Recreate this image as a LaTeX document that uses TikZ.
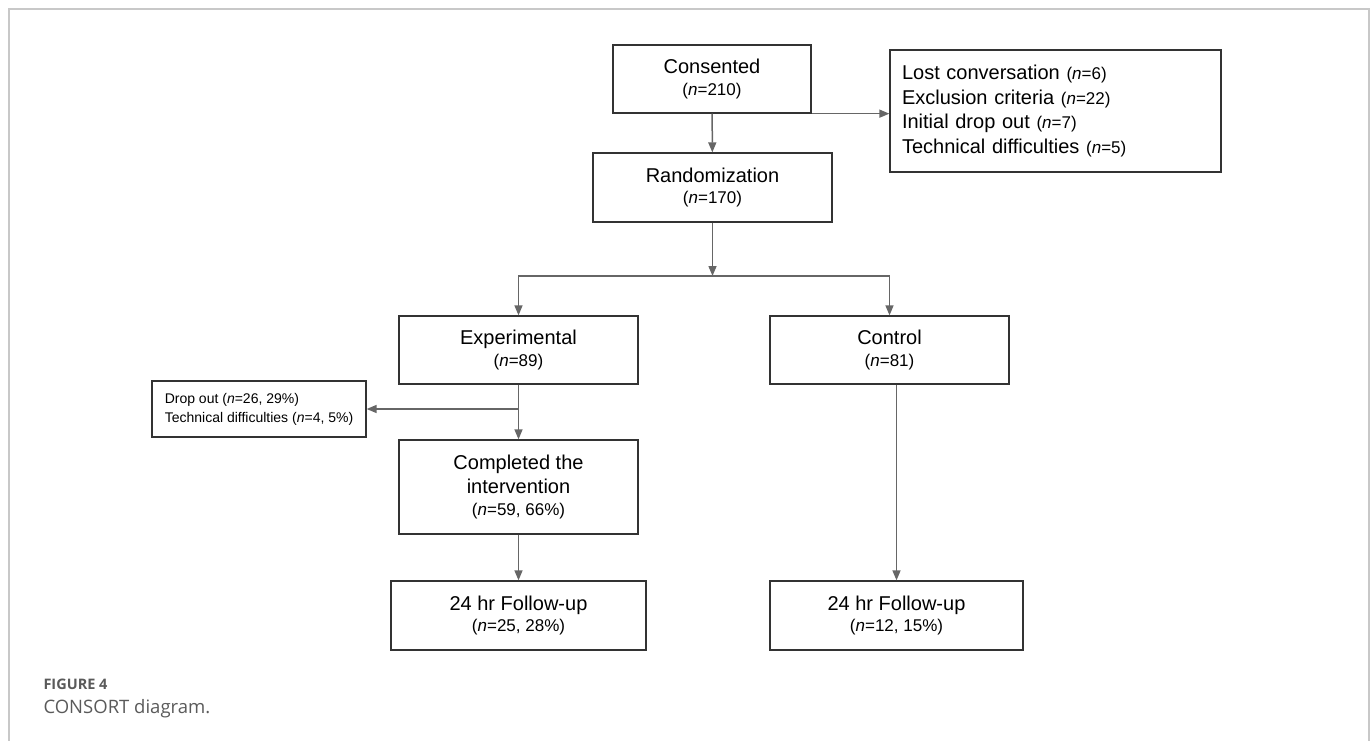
\documentclass[tikz,border=0pt]{standalone}
\usepackage{fontspec}
\setmainfont{Liberation Sans}
\newfontfamily\capfont{Open Sans}
\usetikzlibrary{arrows.meta}
\definecolor{linegray}{HTML}{666666}
\definecolor{boxgray}{HTML}{333333}
\definecolor{framegray}{HTML}{C8C8C8}
\definecolor{capgray}{HTML}{5A5A5A}
\newcommand{\ncount}[1]{{\fontsize{17}{20}\selectfont(\textit{n}=#1)}}

\begin{document}
\begin{tikzpicture}[x=1pt, y=-1pt,
    box/.style={draw=boxgray, line width=1.3pt, align=center, inner sep=0pt, font=\fontsize{20}{24.5}\selectfont},
    listbox/.style={box, align=left, inner xsep=12pt},
    arr/.style={draw=linegray, line width=1.5pt, -{Triangle[length=10pt, width=8pt]}}]
                    \useasboundingbox (0, 0) rectangle (1372, 740);
                    \draw[framegray, line width=1.5pt](9, 745) --(9, 9) --(1369, 9) --(1369, 745);

                    \node [box, minimum width=198, minimum height=68] (cons) at(712, 79) {Consented \\[-3pt] \ncount{210}};
                    \node [listbox, minimum width=331, minimum height=122, text width=307] (excl) at(1055.5, 111) {Lost conversation \ncount{6} \\ Exclusion criteria \ncount{22} \\ Initial drop out \ncount{7} \\ Technical difficulties \ncount{5}};
                    \node [box, minimum width=239, minimum height=69] (rand) at(712.5, 187.5) {Randomization \\[-3pt] \ncount{170}};
                    \node [box, minimum width=239, minimum height=68] (exp) at(518.5, 350) {Experimental \\[-3pt] \ncount{89}};
                    \node [box, minimum width=239, minimum height=68] (ctrl) at(889.5, 350) {Control \\[-3pt] \ncount{81}};
                    \node [listbox, minimum width=214, minimum height=56, font=\fontsize{14}{19}\selectfont] (drop) at(259, 409) {Drop out (\textit{n}=26, 29\%) \\ Technical difficulties (\textit{n}=4, 5\%)};
                    \node [box, minimum width=239, minimum height=94] (comp) at(518.5, 487) {Completed the \\ intervention \\[-3pt] \ncount{59, 66\%}};
                    \node [box, minimum width=255, minimum height=69] (fuexp) at(518.5, 615.5) {24 hr Follow-up \\[-3pt] \ncount{25, 28\%}};
                    \node [box, minimum width=253, minimum height=69] (fuctrl) at(896.5, 615.5) {24 hr Follow-up \\[-3pt] \ncount{12, 15\%}};
                    \coordinate (split) at(712.5, 276);

                    \draw [arr](cons) --(rand);
                    \draw [arr](cons.south east) --(cons.south east -| excl.west);
                    \draw [arr](rand) --(split);
                    \draw [arr](split) -|(exp);
                    \draw [arr](split) -|(ctrl);
                    \draw [arr](exp) --(comp);
                    \draw [arr](exp.south |- drop.east) --(drop.east);
                    \draw [arr](comp) --(fuexp);
                    \draw [arr](ctrl.south -| fuctrl.north) --(fuctrl.north);

                    \node [anchor=west, text=capgray, font=\capfont\bfseries\fontsize{14.5}{17}\selectfont] (fig) at(40, 684) {FIGURE 4};
                    \node [anchor=west, text=capgray, font=\capfont\fontsize{18.5}{22}\selectfont] (cap) at(40, 709) {CONSORT diagram.};
\end{tikzpicture}
\end{document}
